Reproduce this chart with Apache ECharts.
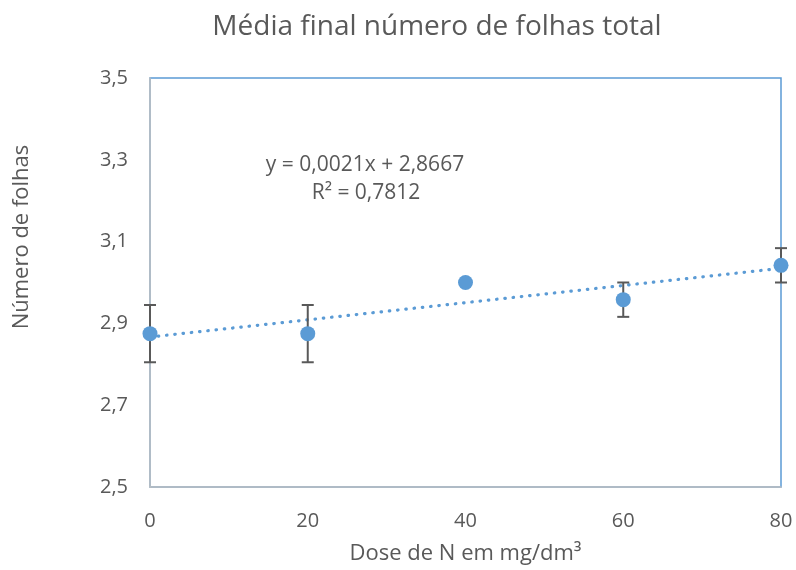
<!DOCTYPE html>
<html>
<head>
<meta charset="utf-8">
<script src="https://cdn.jsdelivr.net/npm/echarts@6/dist/echarts.min.js"></script>
<style>
  html, body { margin: 0; padding: 0; background: #fff; }
  #chart { width: 796px; height: 570px; }
</style>
</head>
<body>
<div id="chart"></div>
<script>
// dose de N (mg/dm³) e média do número de folhas
const doses = [0, 20, 40, 60, 80]
const medias = [2.875, 2.875, 3.0, 2.958, 3.042]
const erros = [0.07, 0.07, 0, 0.042, 0.042]
// linha de tendência (do gráfico original)
const slope = 0.0021
const intercept = 2.8667
const trendX = [0, 80]

const FONT = '"Open Sans", "Noto Sans", sans-serif'
const BLUE = '#5B9BD5'
const TXT = '#595959'

const chart = echarts.init(document.getElementById('chart'))

const pontos = doses.map((x, i) => [x, medias[i]])
const barras = doses.map((x, i) => [x, medias[i] - erros[i], medias[i] + erros[i]])
const trend = trendX.map(x => [x, intercept + slope * x])

chart.setOption({
  animation: false,
  textStyle: { fontFamily: FONT },
  grid: {
    left: 150, right: 15, top: 78, bottom: 83,
    show: true, borderColor: BLUE, borderWidth: 1.5,
  },
  xAxis: {
    type: 'value',
    min: 0, max: 80, interval: 20,
    name: 'Dose de N em mg/dm³',
    nameLocation: 'middle',
    nameGap: 56,
    nameTextStyle: { fontSize: 22, color: TXT, fontFamily: FONT },
    axisLine: { show: true, lineStyle: { color: '#BFBFBF', width: 1.5 } },
    axisTick: { show: false },
    splitLine: { show: false },
    axisLabel: { fontSize: 20, color: TXT, margin: 24, fontFamily: FONT },
  },
  yAxis: {
    type: 'value',
    min: 2.5, max: 3.5, interval: 0.2,
    axisLine: { show: true, lineStyle: { color: '#BFBFBF', width: 1.5 } },
    axisTick: { show: false },
    splitLine: { show: false },
    axisLabel: {
      fontSize: 20, color: TXT, margin: 22, fontFamily: FONT,
      formatter: v => v.toFixed(1).replace('.', ','),
    },
  },
  series: [
    {
      type: 'line',
      data: trend,
      symbol: 'none',
      lineStyle: { color: BLUE, width: 3.2, type: [0.5, 7.8], cap: 'round' },
      z: 2,
    },
    {
      type: 'custom',
      data: barras,
      renderItem: (params, api) => {
        const x = api.value(0)
        const lo = api.coord([x, api.value(1)])
        const hi = api.coord([x, api.value(2)])
        if (Math.abs(hi[1] - lo[1]) < 1) return
        const w = 6
        const style = { stroke: '#595959', lineWidth: 2 }
        return {
          type: 'group',
          children: [
            { type: 'line', shape: { x1: lo[0], y1: lo[1], x2: hi[0], y2: hi[1] }, style },
            { type: 'line', shape: { x1: lo[0] - w, y1: lo[1], x2: lo[0] + w, y2: lo[1] }, style },
            { type: 'line', shape: { x1: hi[0] - w, y1: hi[1], x2: hi[0] + w, y2: hi[1] }, style },
          ],
        }
      },
      z: 3,
    },
    {
      type: 'scatter',
      data: pontos,
      symbolSize: 15,
      itemStyle: { color: BLUE, opacity: 1 },
      z: 4,
    },
  ],
  graphic: [
    {
      type: 'text',
      x: 437, y: 27,
      style: {
        text: 'Média final número de folhas total', fontSize: 28, fill: TXT, fontFamily: FONT,
        align: 'center', verticalAlign: 'middle',
      },
    },
    {
      type: 'text',
      x: 22, y: 237, rotation: Math.PI / 2,
      style: {
        text: 'Número de folhas', fontSize: 22, fill: TXT, fontFamily: FONT,
        align: 'center', verticalAlign: 'middle',
      },
    },
    {
      type: 'text',
      x: 365, y: 165,
      style: {
        text: 'y = 0,0021x + 2,8667', fontSize: 21, fill: TXT, fontFamily: FONT,
        align: 'center', verticalAlign: 'middle',
      },
    },
    {
      type: 'text',
      x: 366, y: 193,
      style: {
        text: 'R² = 0,7812', fontSize: 21, fill: TXT, fontFamily: FONT,
        align: 'center', verticalAlign: 'middle',
      },
    },
  ],
})
</script>
</body>
</html>
